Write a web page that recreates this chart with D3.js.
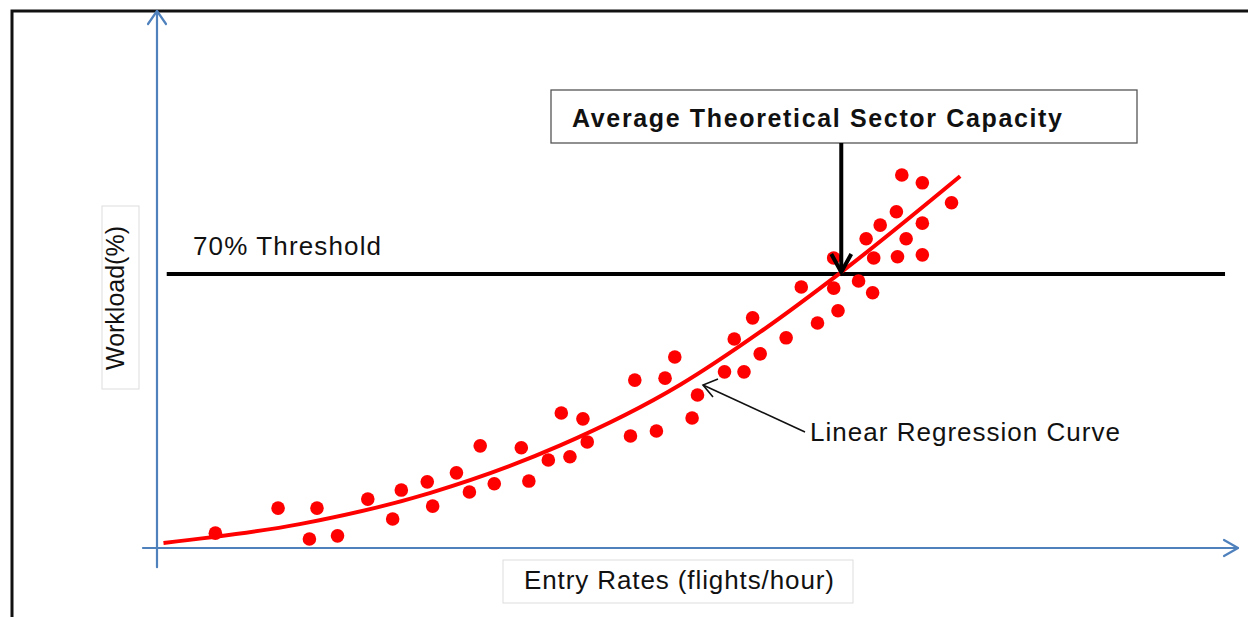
<!DOCTYPE html>
<html>
<head>
<meta charset="utf-8">
<script src="https://cdn.jsdelivr.net/npm/d3@7"></script>
<style>
  body { margin: 0; background: #fff; }
  svg { display: block; font-family: "Liberation Sans", Arial, sans-serif; }
</style>
</head>
<body>
<div id="chart"></div>
<script>
// scatter of entry rate (flights/hour) vs workload (%)
const entryRates = [5.4, 11.2, 14.1, 14.8, 16.7, 19.5, 21.8, 22.6, 25.0, 25.5, 27.7, 28.9, 29.9, 31.2, 33.7, 34.4,
    36.2, 37.4, 38.2, 39.4, 39.8, 43.8, 44.2, 46.2, 47.0, 47.9, 49.5, 50.0, 52.5, 53.4, 54.3, 55.1, 55.8, 58.2,
    59.6, 61.1, 62.6, 62.6, 63.0, 64.9, 65.6, 66.2, 66.3, 66.9, 68.4, 68.5, 68.9, 69.3, 70.8, 70.8, 70.8, 73.5];
const workloads = [3.8, 10.2, 2.3, 10.2, 3.1, 12.5, 7.4, 14.8, 16.9, 10.7, 19.2, 14.3, 26.1, 16.4, 25.6, 17.1,
    22.5, 34.5, 23.3, 33.0, 27.1, 28.6, 42.9, 29.9, 43.4, 48.8, 33.2, 39.1, 45.0, 53.4, 45.0, 58.8, 49.6, 53.7,
    66.7, 57.5, 74.1, 66.4, 60.6, 68.2, 79.0, 65.2, 74.1, 82.5, 85.9, 74.4, 95.3, 79.0, 93.3, 83.0, 74.9, 88.2];

// regression curve, sampled off the figure
const curveRates = [0.6, 13.2, 25.3, 37.3, 48.4, 55.8, 63.3, 74.3];
const curveWorkloads = [1.3, 6.1, 14.1, 26.2, 41.7, 55.2, 70.5, 95.0];

const thresholdValue = 70;
const capacityRate = 63.3;

const width = 1248, height = 617;
const blue = "#4f81bd";

const svg = d3.select("#chart").append("svg")
    .attr("width", width)
    .attr("height", height);

const x = d3.scaleLinear().domain([0, 100]).range([157, 1238]);
const y = d3.scaleLinear().domain([0, 100]).range([548, 156.6]);

// outer frame (only top/left visible)
svg.append("path")
    .attr("d", "M12,617 V11 H1248")
    .attr("fill", "none")
    .attr("stroke", "#111")
    .attr("stroke-width", 3);

// axes with open arrowheads
const axes = svg.append("g")
    .attr("stroke", blue)
    .attr("stroke-width", 2.2)
    .attr("fill", "none")
    .attr("stroke-linecap", "round")
    .attr("stroke-linejoin", "round");

axes.append("line")
    .attr("x1", x(0)).attr("x2", x(0))
    .attr("y1", y(-4.9)).attr("y2", y(137.2));
axes.append("path")
    .attr("d", `M${x(0) - 9},${y(137.2) + 13} L${x(0)},${y(137.2)} L${x(0) + 9},${y(137.2) + 13}`);

axes.append("line")
    .attr("x1", x(-1.3)).attr("x2", x(100))
    .attr("y1", y(0)).attr("y2", y(0));
axes.append("path")
    .attr("d", `M${x(100) - 14},${y(0) - 8} L${x(100)},${y(0)} L${x(100) - 14},${y(0) + 8}`);

// axis title boxes
svg.append("rect")
    .attr("x", 102).attr("y", 206).attr("width", 37).attr("height", 183)
    .attr("fill", "#fff").attr("stroke", "#ddd");
svg.append("text")
    .attr("transform", "translate(124,298) rotate(-90)")
    .attr("text-anchor", "middle")
    .attr("font-size", 25)
    .attr("textLength", 144)
    .attr("lengthAdjust", "spacing")
    .attr("fill", "#111")
    .text("Workload(%)");

svg.append("rect")
    .attr("x", 503).attr("y", 560).attr("width", 350).attr("height", 43)
    .attr("fill", "#fff").attr("stroke", "#ddd");
svg.append("text")
    .attr("x", 524).attr("y", 589)
    .attr("font-size", 26)
    .attr("textLength", 310)
    .attr("lengthAdjust", "spacing")
    .attr("fill", "#111")
    .text("Entry Rates (flights/hour)");

// 70% threshold
svg.append("line")
    .attr("x1", x(0.9)).attr("x2", x(98.8))
    .attr("y1", y(thresholdValue)).attr("y2", y(thresholdValue))
    .attr("stroke", "#000")
    .attr("stroke-width", 4);
svg.append("text")
    .attr("x", 193).attr("y", 255)
    .attr("font-size", 26)
    .attr("textLength", 188)
    .attr("lengthAdjust", "spacing")
    .attr("fill", "#111")
    .text("70% Threshold");

// points
svg.append("g").selectAll("circle")
    .data(entryRates.map((d, i) => [d, workloads[i]]))
    .join("circle")
    .attr("cx", d => x(d[0]))
    .attr("cy", d => y(d[1]))
    .attr("r", 6.8)
    .attr("fill", "#ff0000");

// regression curve
const line = d3.line()
    .x(d => x(d[0]))
    .y(d => y(d[1]))
    .curve(d3.curveMonotoneX);
svg.append("path")
    .datum(curveRates.map((d, i) => [d, curveWorkloads[i]]))
    .attr("d", line)
    .attr("fill", "none")
    .attr("stroke", "#ff0000")
    .attr("stroke-width", 4);

// capacity annotation
svg.append("rect")
    .attr("x", 551).attr("y", 90).attr("width", 586).attr("height", 53)
    .attr("fill", "#fff").attr("stroke", "#555").attr("stroke-width", 1.3);
svg.append("text")
    .attr("x", 572).attr("y", 127)
    .attr("font-size", 25)
    .attr("font-weight", "bold")
    .attr("textLength", 490)
    .attr("lengthAdjust", "spacing")
    .attr("fill", "#111")
    .text("Average Theoretical Sector Capacity");

const cx = x(capacityRate), cy = y(thresholdValue);
svg.append("line")
    .attr("x1", cx).attr("x2", cx)
    .attr("y1", 143).attr("y2", cy - 2)
    .attr("stroke", "#000").attr("stroke-width", 4);
svg.append("path")
    .attr("d", `M${cx - 10},${cy - 20} L${cx},${cy - 2} L${cx + 10},${cy - 20}`)
    .attr("fill", "none").attr("stroke", "#000").attr("stroke-width", 4)
    .attr("stroke-linejoin", "miter");

// regression label + pointer
const tipX = 703, tipY = 385;
svg.append("line")
    .attr("x1", 805).attr("y1", 432).attr("x2", tipX).attr("y2", tipY)
    .attr("stroke", "#111").attr("stroke-width", 1.6);
svg.append("path")
    .attr("d", `M${tipX + 15},${tipY - 6} L${tipX},${tipY} L${tipX + 10},${tipY + 12}`)
    .attr("fill", "none").attr("stroke", "#111").attr("stroke-width", 1.6);
svg.append("text")
    .attr("x", 810).attr("y", 441)
    .attr("font-size", 26)
    .attr("textLength", 310)
    .attr("lengthAdjust", "spacing")
    .attr("fill", "#111")
    .text("Linear Regression Curve");
</script>
</body>
</html>
